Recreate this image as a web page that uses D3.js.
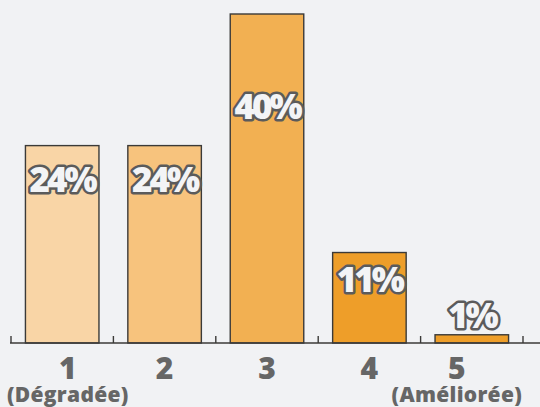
<!DOCTYPE html>
<html><head><meta charset="utf-8">
<script src="https://cdn.jsdelivr.net/npm/d3@7"></script>
<style>
html,body{margin:0;padding:0;background:#f1f2f4;}
svg{display:block;}
</style></head>
<body>
<script>
const categories = ["1", "2", "3", "4", "5"];
const subLabels = ["(Dégradée)", "", "", "", "(Améliorée)"];
const values = [24, 24, 40, 11, 1];
const valueLabels = ["24%", "24%", "40%", "11%", "1%"];
const barColors = ["#f9d5a6", "#f7c37d", "#f2b052", "#ee9e29", "#ee9e29"];
const labelDy = [34, 34, 92, 27, -19];

const W = 540, H = 407;
const svg = d3.select("body").append("svg").attr("width", W).attr("height", H);
svg.append("rect").attr("width", W).attr("height", H).attr("fill", "#f1f2f4");

const x = d3.scaleBand().domain(categories).range([11, 523]).paddingInner(0.282).paddingOuter(0.141);
const y = d3.scaleLinear().domain([0, 40]).range([343, 14]);
const FONT = "'Open Sans', Lato, sans-serif";

const data = categories.map((c, i) => ({c, v: values[i], lab: valueLabels[i], col: barColors[i], sub: subLabels[i], dy: labelDy[i]}));

svg.selectAll("rect.bar").data(data).join("rect")
  .attr("class", "bar")
  .attr("x", d => x(d.c)).attr("width", x.bandwidth())
  .attr("y", d => y(d.v)).attr("height", d => y(0) - y(d.v))
  .attr("fill", d => d.col).attr("stroke", "#3b3a38").attr("stroke-width", 1.4);

const step = x.step();
const x0 = x.range()[0];
svg.append("line").attr("x1", 10).attr("x2", 540).attr("y1", y(0)).attr("y2", y(0))
  .attr("stroke", "#3b3a38").attr("stroke-width", 1.6);
d3.range(categories.length + 1).forEach(i => {
  const xx = x0 + i * step;
  svg.append("line").attr("x1", xx).attr("x2", xx).attr("y1", y(0)).attr("y2", y(0) - 7)
    .attr("stroke", "#3b3a38").attr("stroke-width", 1.4);
});

svg.selectAll("text.val").data(data).join("text")
  .attr("class", "val")
  .attr("x", d => x(d.c) + x.bandwidth() / 2)
  .attr("y", d => y(d.v) + d.dy)
  .attr("dy", "0.36em")
  .attr("text-anchor", "middle")
  .attr("font-family", FONT).attr("font-weight", 800).attr("font-size", 35)
  .attr("letter-spacing", -3)
  .attr("fill", "#f3f4f6").attr("stroke", "#5b5b5b").attr("stroke-width", 5)
  .attr("stroke-linejoin", "round").attr("paint-order", "stroke")
  .text(d => d.lab);

data.forEach(d => {
  const g = svg.append("g");
  const cx = x(d.c) + x.bandwidth() / 2;
  g.append("text").attr("x", 0).attr("y", 379)
    .attr("text-anchor", "middle").attr("font-family", FONT).attr("font-weight", 800)
    .attr("font-size", 30).attr("fill", "#666666").text(d.c);
  if (d.sub) {
    g.append("text").attr("x", 0).attr("y", 402)
      .attr("text-anchor", "middle").attr("font-family", FONT).attr("font-weight", 800)
      .attr("font-size", 21).attr("letter-spacing", 0.3).attr("fill", "#666666").text(d.sub);
  }
  const bb = g.node().getBBox();
  let tx = cx;
  if (cx + bb.x < 7) tx = 7 - bb.x;
  if (cx + bb.x + bb.width > 522) tx = 522 - bb.x - bb.width;
  g.attr("transform", `translate(${tx},0)`);
});
</script>
</body></html>
